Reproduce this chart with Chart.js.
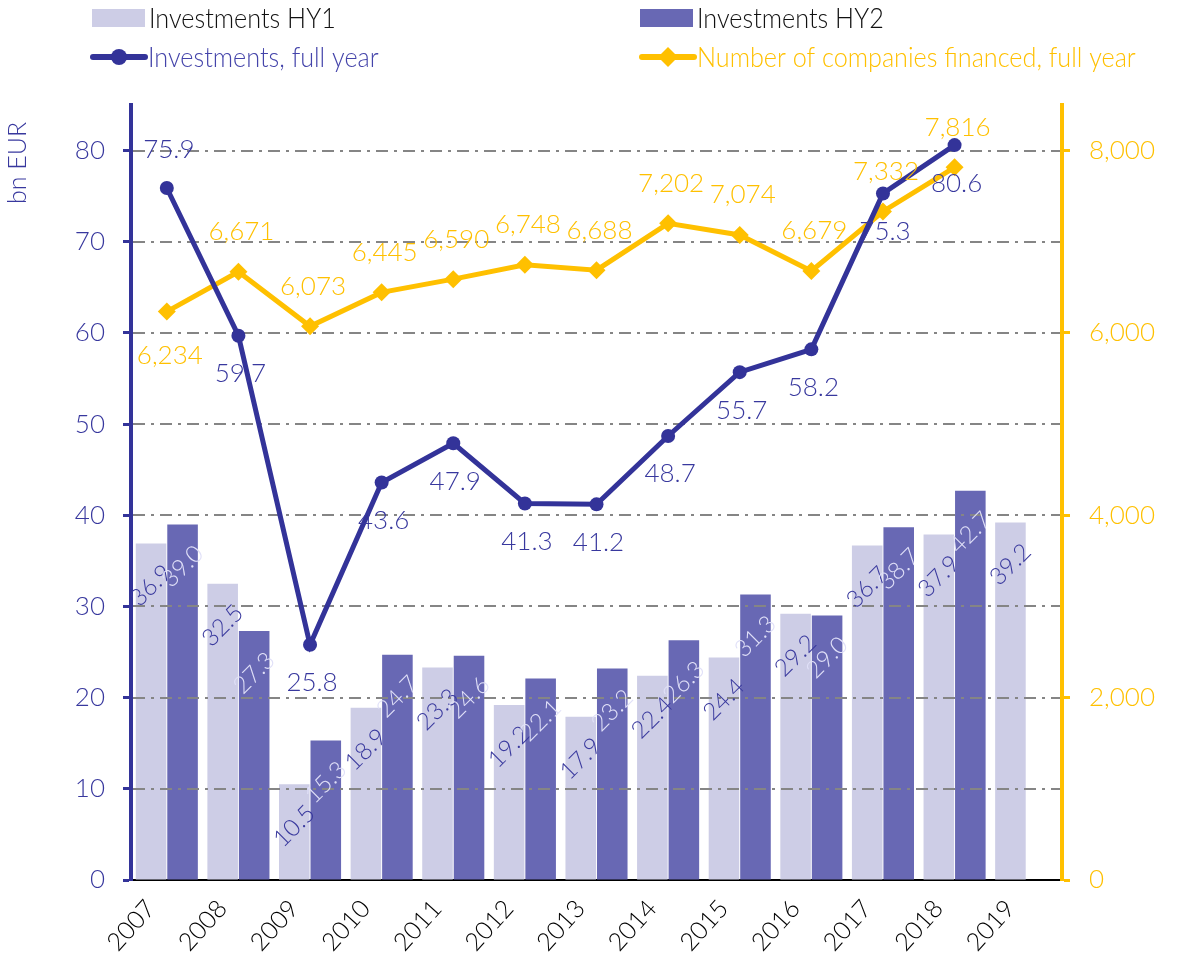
<!DOCTYPE html>
<html>
<head>
<meta charset="utf-8">
<script src="https://cdn.jsdelivr.net/npm/chart.js@4.4.1/dist/chart.umd.min.js"></script>
<style>
  html, body { margin: 0; padding: 0; background: #fff; }
  #wrap { width: 1181px; height: 962px; }
</style>
</head>
<body>
<div id="wrap"><canvas id="chart" width="1181" height="962"></canvas></div>
<script>
// chart data
const years = ['2007', '2008', '2009', '2010', '2011', '2012', '2013', '2014', '2015', '2016', '2017', '2018', '2019'];
const investHY1 = [36.9, 32.5, 10.5, 18.9, 23.3, 19.2, 17.9, 22.4, 24.4, 29.2, 36.7, 37.9, 39.2];
const investHY2 = [39.0, 27.3, 15.3, 24.7, 24.6, 22.1, 23.2, 26.3, 31.3, 29.0, 38.7, 42.7, null];
const investFullYear = [75.9, 59.7, 25.8, 43.6, 47.9, 41.3, 41.2, 48.7, 55.7, 58.2, 75.3, 80.6, null];
const companiesFinanced = [6234, 6671, 6073, 6445, 6590, 6748, 6688, 7202, 7074, 6679, 7332, 7816, null];

// axis ranges
const leftMax = 85;
const leftStep = 10;
const rightMax = 8500;
const rightStep = 2000;

const FONT = 'Lato, "Open Sans", sans-serif';
const W = '300 ';
const NAVY = '#333399';
const NAVY_TEXT = '#38389e';
const GOLD = '#ffc000';
const HY1_COLOR = '#cdcde6';
const HY2_COLOR = '#6868b4';

// which side of the point each line label sits on
function fullYearSide(i) { return i === 0 ? 'above' : 'below'; }
function companiesSide(i) { return i === 0 ? 'below' : 'above'; }

const decor = {
    id: 'decor',
    afterDatasetDraw(chart, args) {
        // HY1 bars are drawn last of the bars: grid lines go over the bars, under the lines
        if (args.index !== 0) return;
        const ctx = chart.ctx;
        const area = chart.chartArea;
        const y = chart.scales.y;
        ctx.save();
        ctx.strokeStyle = '#858585';
        ctx.lineWidth = 2;
        ctx.setLineDash([12, 6, 3, 6]);
        y.ticks.forEach(t => {
            if (t.value === 0) return;
            const py = Math.round(y.getPixelForValue(t.value));
            ctx.beginPath();
            ctx.moveTo(area.left + 2, py);
            ctx.lineTo(area.right - 2, py);
            ctx.stroke();
        });
        ctx.restore();

        // rotated value labels inside the bars
        [0, 1].forEach(di => {
            const ds = chart.data.datasets[di];
            chart.getDatasetMeta(di).data.forEach((bar, i) => {
                const v = ds.data[i];
                if (v == null) return;
                ctx.save();
                ctx.translate(bar.x, bar.y + 42);
                ctx.rotate(-Math.PI / 4);
                ctx.font = W + '24px ' + FONT;
                ctx.fillStyle = ds.labelColor;
                ctx.textAlign = 'center';
                ctx.textBaseline = 'middle';
                ctx.fillText(v.toFixed(1), 0, 0);
                ctx.restore();
            });
        });
    },
    afterDatasetsDraw(chart) {
        const ctx = chart.ctx;
        ctx.save();
        ctx.font = W + '26px ' + FONT;
        ctx.textAlign = 'center';
        ctx.textBaseline = 'middle';
        // companies labels
        chart.getDatasetMeta(3).data.forEach((pt, i) => {
            const v = companiesFinanced[i];
            if (v == null) return;
            ctx.fillStyle = GOLD;
            const dy = companiesSide(i) === 'above' ? -40 : 44;
            ctx.fillText(v.toLocaleString('en-US'), pt.x + 3, pt.y + dy);
        });
        // full year labels
        chart.getDatasetMeta(2).data.forEach((pt, i) => {
            const v = investFullYear[i];
            if (v == null) return;
            ctx.fillStyle = NAVY_TEXT;
            const dy = fullYearSide(i) === 'above' ? -38 : 38;
            ctx.fillText(v.toFixed(1), pt.x + 2, pt.y + dy);
        });
        ctx.restore();
    },
    afterDraw(chart) {
        const ctx = chart.ctx;
        ctx.save();
        // axis title
        ctx.translate(18, 163);
        ctx.rotate(-Math.PI / 2);
        ctx.font = W + '25px ' + FONT;
        ctx.fillStyle = NAVY_TEXT;
        ctx.textAlign = 'center';
        ctx.textBaseline = 'middle';
        ctx.fillText('bn EUR', 0, 0);
        ctx.restore();

        // legend, two columns
        const items = [
            { text: chart.data.datasets[0].label, kind: 'box', color: HY1_COLOR, textColor: '#111', x: 92, y: 18 },
            { text: chart.data.datasets[1].label, kind: 'box', color: HY2_COLOR, textColor: '#111', x: 640, y: 18 },
            { text: chart.data.datasets[2].label, kind: 'circle', color: NAVY, textColor: '#4444aa', x: 91, y: 57 },
            { text: chart.data.datasets[3].label, kind: 'diamond', color: GOLD, textColor: GOLD, x: 640, y: 57 }
        ];
        items.forEach(it => {
            ctx.save();
            ctx.fillStyle = it.color;
            ctx.strokeStyle = it.color;
            if (it.kind === 'box') {
                ctx.fillRect(it.x, it.y - 9, 53, 18);
            } else {
                ctx.lineWidth = 6;
                ctx.lineCap = 'round';
                ctx.beginPath();
                ctx.moveTo(it.x + 2, it.y);
                ctx.lineTo(it.x + 54, it.y);
                ctx.stroke();
                const cx = it.x + 28;
                ctx.beginPath();
                if (it.kind === 'circle') {
                    ctx.arc(cx, it.y, 8, 0, Math.PI * 2);
                } else {
                    ctx.moveTo(cx, it.y - 10);
                    ctx.lineTo(cx + 10, it.y);
                    ctx.lineTo(cx, it.y + 10);
                    ctx.lineTo(cx - 10, it.y);
                    ctx.closePath();
                }
                ctx.fill();
            }
            ctx.translate(it.x + 57, it.y + 10);
            ctx.scale(0.9, 1);
            ctx.font = W + '28px ' + FONT;
            ctx.fillStyle = it.textColor;
            ctx.textAlign = 'left';
            ctx.textBaseline = 'alphabetic';
            ctx.fillText(it.text, 0, 0);
            ctx.restore();
        });
    }
};

new Chart(document.getElementById('chart'), {
    type: 'bar',
    data: {
        labels: years,
        datasets: [
            {
                label: 'Investments HY1',
                data: investHY1,
                backgroundColor: HY1_COLOR,
                labelColor: '#3a3a9e',
                yAxisID: 'y',
                order: 2,
                categoryPercentage: 0.88,
                barPercentage: 0.97
            },
            {
                label: 'Investments HY2',
                data: investHY2,
                backgroundColor: HY2_COLOR,
                labelColor: '#e0e0f8',
                yAxisID: 'y',
                order: 3,
                categoryPercentage: 0.88,
                barPercentage: 0.97
            },
            {
                type: 'line',
                label: 'Investments, full year',
                data: investFullYear,
                borderColor: NAVY,
                backgroundColor: NAVY,
                borderWidth: 5,
                pointRadius: 7,
                pointBorderWidth: 0,
                pointStyle: 'circle',
                tension: 0,
                yAxisID: 'y',
                order: 0
            },
            {
                type: 'line',
                label: 'Number of companies financed, full year',
                data: companiesFinanced,
                borderColor: GOLD,
                backgroundColor: GOLD,
                borderWidth: 5,
                pointRadius: 9,
                pointBorderWidth: 0,
                pointStyle: 'rectRot',
                tension: 0,
                yAxisID: 'y2',
                order: 1
            }
        ]
    },
    options: {
        responsive: false,
        animation: false,
        layout: { padding: { top: 105, left: 0, right: 0, bottom: 0 } },
        plugins: {
            legend: { display: false },
            tooltip: { enabled: false }
        },
        scales: {
            x: {
                grid: { display: false, drawTicks: false },
                border: { display: true, color: '#000', width: 2 },
                ticks: {
                    color: '#000',
                    font: { family: FONT, size: 25, weight: '300' },
                    minRotation: 48,
                    maxRotation: 48,
                    padding: 14,
                    labelOffset: -16
                },
                afterFit(scale) { scale.height = 82; }
            },
            y: {
                position: 'left',
                min: 0,
                max: leftMax,
                grid: {
                    drawOnChartArea: false,
                    drawTicks: true,
                    tickLength: 8,
                    tickWidth: 3,
                    tickColor: NAVY
                },
                border: { display: true, color: NAVY, width: 4 },
                ticks: {
                    stepSize: leftStep,
                    includeBounds: false,
                    color: NAVY_TEXT,
                    font: { family: FONT, size: 26, weight: '300' },
                    padding: 18
                },
                afterFit(scale) { scale.width = 131; }
            },
            y2: {
                position: 'right',
                min: 0,
                max: rightMax,
                grid: {
                    drawOnChartArea: false,
                    drawTicks: true,
                    tickLength: 8,
                    tickWidth: 3,
                    tickColor: GOLD
                },
                border: { display: true, color: GOLD, width: 4 },
                ticks: {
                    color: GOLD,
                    font: { family: FONT, size: 26, weight: '300' },
                    padding: 19,
                    callback: v => v.toLocaleString('en-US')
                },
                afterBuildTicks(scale) {
                    const ticks = [];
                    for (let v = 0; v <= rightMax; v += rightStep) ticks.push({ value: v });
                    scale.ticks = ticks;
                },
                afterFit(scale) { scale.width = 119; }
            }
        }
    },
    plugins: [decor]
});
</script>
</body>
</html>
